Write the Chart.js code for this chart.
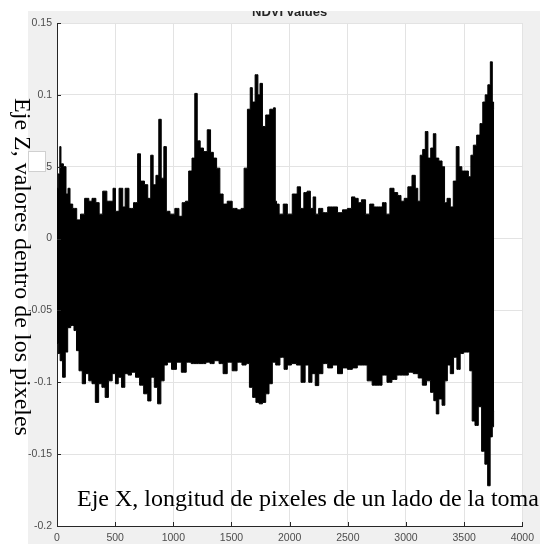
<!DOCTYPE html>
<html>
<head>
<meta charset="utf-8">
<script src="https://cdn.jsdelivr.net/npm/chart.js@4"></script>
<style>
  html, body { margin: 0; padding: 0; background: #fff; }
  #wrap { width: 540px; height: 544px; }
</style>
</head>
<body>
<div id="wrap"><canvas id="ndvi" width="540" height="544"></canvas></div>
<script>
const titulo = 'NDVI values';
const etiquetaX = 'Eje X, longitud de pixeles de un lado de la toma';
const etiquetaZ = 'Eje Z, valores dentro de los pixeles';

const ticksX = [0, 500, 1000, 1500, 2000, 2500, 3000, 3500, 4000];
const ticksZ = [0.15, 0.1, 0.05, 0, -0.05, -0.1, -0.15, -0.2];

// envolvente superior de la señal (pixel, valor)
const supX = [0, 20, 28, 40, 70, 85, 104, 120, 150, 189, 215, 260, 287, 315, 353, 372, 414, 443, 470, 493,
  512, 555, 575, 597, 640, 676, 710, 725, 738, 766, 794, 817, 836, 865, 885, 907, 930, 950, 992, 1034,
  1062, 1090, 1118, 1146, 1175, 1194, 1217, 1245, 1273, 1310, 1330, 1358, 1386, 1414, 1442, 1485, 1527, 1569, 1597, 1620,
  1654, 1668, 1690, 1716, 1738, 1752, 1780, 1808, 1850, 1873, 1880, 1895, 1924, 1966, 1994, 2051, 2079, 2108, 2136, 2164,
  2192, 2212, 2235, 2263, 2306, 2348, 2390, 2433, 2475, 2518, 2546, 2575, 2603, 2631, 2674, 2702, 2744, 2780, 2815, 2843,
  2880, 2914, 2943, 2971, 2999, 3033, 3070, 3090, 3112, 3132, 3155, 3177, 3200, 3225, 3245, 3268, 3296, 3324, 3339, 3367,
  3395, 3418, 3446, 3466, 3494, 3522, 3551, 3565, 3593, 3622, 3650, 3670, 3692, 3715, 3735, 3749, 3757];
const supZ = [0.035, 0.045, 0.064, 0.052, 0.050, 0.031, 0.035, 0.024, 0.021, 0.013, 0.017, 0.028, 0.026, 0.028, 0.025, 0.017, 0.033, 0.026, 0.026, 0.035,
  0.019, 0.035, 0.022, 0.035, 0.021, 0.025, 0.059, 0.040, 0.040, 0.0375, 0.028, 0.058, 0.0375, 0.044, 0.083, 0.042, 0.064, 0.019, 0.017, 0.021,
  0.0155, 0.025, 0.026, 0.047, 0.056, 0.101, 0.068, 0.063, 0.0605, 0.0757, 0.060, 0.056, 0.049, 0.031, 0.024, 0.026, 0.021, 0.020, 0.021, 0.049,
  0.090, 0.105, 0.095, 0.114, 0.100, 0.108, 0.078, 0.086, 0.090, 0.091, 0.026, 0.024, 0.017, 0.024, 0.017, 0.031, 0.036, 0.021, 0.032, 0.033,
  0.021, 0.029, 0.017, 0.021, 0.018, 0.022, 0.022, 0.018, 0.020, 0.021, 0.029, 0.028, 0.025, 0.027, 0.017, 0.024, 0.022, 0.022, 0.025, 0.017,
  0.035, 0.032, 0.030, 0.026, 0.028, 0.036, 0.044, 0.035, 0.026, 0.058, 0.062, 0.0745, 0.056, 0.063, 0.073, 0.056, 0.054, 0.050, 0.025, 0.028,
  0.022, 0.040, 0.064, 0.050, 0.047, 0.047, 0.043, 0.058, 0.065, 0.072, 0.080, 0.095, 0.100, 0.107, 0.123, 0.095, 0.090];

// envolvente inferior de la señal (pixel, valor)
const infX = [0, 20, 34, 62, 80, 104, 132, 160, 175, 203, 231, 259, 287, 315, 344, 372, 400, 428, 456, 493,
  512, 541, 569, 597, 626, 654, 696, 724, 766, 794, 822, 851, 879, 907, 935, 963, 1006, 1048, 1090, 1132,
  1175, 1217, 1259, 1301, 1330, 1372, 1414, 1442, 1485, 1527, 1569, 1611, 1640, 1668, 1696, 1724, 1752, 1780, 1808, 1837,
  1865, 1895, 1938, 1966, 1994, 2037, 2080, 2116, 2150, 2178, 2205, 2235, 2265, 2306, 2348, 2390, 2433, 2475, 2518, 2560,
  2603, 2645, 2688, 2730, 2773, 2815, 2858, 2900, 2943, 2999, 3041, 3084, 3126, 3155, 3197, 3225, 3253, 3268, 3296, 3324,
  3344, 3367, 3395, 3423, 3452, 3480, 3508, 3537, 3559, 3579, 3607, 3636, 3664, 3692, 3712, 3735, 3749, 3757];
const infZ = [-0.073, -0.080, -0.085, -0.0965, -0.079, -0.062, -0.0605, -0.064, -0.078, -0.092, -0.101, -0.094, -0.099, -0.101, -0.114, -0.101, -0.1035, -0.1105, -0.099, -0.094,
  -0.101, -0.0965, -0.1035, -0.094, -0.095, -0.093, -0.0965, -0.102, -0.108, -0.113, -0.0965, -0.1035, -0.115, -0.099, -0.088, -0.086, -0.091, -0.086, -0.093, -0.086,
  -0.087, -0.087, -0.087, -0.086, -0.087, -0.085, -0.087, -0.094, -0.086, -0.092, -0.086, -0.088, -0.087, -0.1035, -0.1105, -0.114, -0.115, -0.114, -0.108, -0.101,
  -0.086, -0.088, -0.0826, -0.091, -0.088, -0.087, -0.088, -0.100, -0.088, -0.100, -0.094, -0.1023, -0.094, -0.087, -0.090, -0.088, -0.094, -0.090, -0.091, -0.090,
  -0.088, -0.088, -0.099, -0.102, -0.102, -0.095, -0.100, -0.098, -0.095, -0.095, -0.093, -0.094, -0.097, -0.102, -0.099, -0.107, -0.1128, -0.122, -0.1116, -0.116,
  -0.099, -0.088, -0.094, -0.0826, -0.091, -0.080, -0.079, -0.079, -0.092, -0.127, -0.130, -0.117, -0.148, -0.157, -0.172, -0.138, -0.131, -0.120];

const puntos = (xs, zs) => xs.map((x, i) => ({ x: x, y: zs[i] }));

const GRIS_EJE = '#262626';
const GRIS_TEXTO = '#4d4d4d';

const fondo = {
  id: 'fondo',
  beforeDraw(chart) {
    const { ctx, chartArea: a } = chart;
    ctx.save();
    ctx.fillStyle = '#f0f0f0';
    ctx.fillRect(0, 0, chart.width, chart.height);
    ctx.fillStyle = '#ffffff';
    ctx.fillRect(a.left, a.top, a.right - a.left, a.bottom - a.top);
    ctx.fillStyle = GRIS_EJE;
    ctx.font = 'bold 13px "Liberation Sans", Arial, sans-serif';
    ctx.textAlign = 'center';
    ctx.textBaseline = 'alphabetic';
    ctx.fillText(titulo, (a.left + a.right) / 2, 15.5);
    ctx.restore();
  },
  afterDraw(chart) {
    const { ctx, chartArea: a } = chart;
    const sx = chart.scales.x, sy = chart.scales.y;
    ctx.save();
    // marcas hacia dentro, estilo matlab
    ctx.strokeStyle = GRIS_EJE;
    ctx.lineWidth = 1;
    ctx.beginPath();
    ticksX.forEach(v => {
      const px = Math.round(sx.getPixelForValue(v)) + 0.5;
      ctx.moveTo(px, a.bottom);
      ctx.lineTo(px, a.bottom - 4);
    });
    ticksZ.forEach(v => {
      const py = Math.round(sy.getPixelForValue(v)) + 0.5;
      ctx.moveTo(a.left, py);
      ctx.lineTo(a.left + 4, py);
    });
    ctx.stroke();

    // recorte blanco arriba y a la izquierda
    ctx.fillStyle = '#ffffff';
    ctx.fillRect(0, 0, chart.width, 11);
    ctx.fillRect(0, 0, 28, chart.height);
    // recuadro blanco sobre la etiqueta 0.05
    ctx.fillRect(28, 151, 18, 21);
    ctx.strokeStyle = '#d0d0d0';
    ctx.strokeRect(28.5, 151.5, 17, 20);

    // textos de los ejes
    ctx.fillStyle = '#000000';
    ctx.font = '24px "Liberation Serif", "Times New Roman", serif';
    ctx.textAlign = 'left';
    ctx.textBaseline = 'alphabetic';
    ctx.fillText(etiquetaX, 77, 506);

    ctx.translate(21, 267);
    ctx.rotate(Math.PI / 2);
    ctx.textAlign = 'center';
    ctx.textBaseline = 'middle';
    ctx.fillText(etiquetaZ, 0, 0);
    ctx.restore();
  }
};

new Chart(document.getElementById('ndvi'), {
  type: 'line',
  data: {
    datasets: [
      {
        // se rellena hasta -0.05 para solapar con la parte de abajo
        data: puntos(supX, supZ),
        borderColor: '#000000',
        backgroundColor: '#000000',
        borderWidth: 1,
        pointRadius: 0,
        stepped: 'middle',
        fill: { value: -0.05 }
      },
      {
        data: puntos(infX, infZ),
        borderColor: '#000000',
        backgroundColor: '#000000',
        borderWidth: 1,
        pointRadius: 0,
        stepped: 'middle',
        fill: { value: 0 }
      }
    ]
  },
  options: {
    responsive: false,
    animation: false,
    layout: { padding: { top: 23, right: 11, left: 0, bottom: 0 } },
    plugins: {
      legend: { display: false },
      tooltip: { enabled: false },
      title: { display: false }
    },
    scales: {
      x: {
        type: 'linear',
        min: 0,
        max: 4000,
        afterBuildTicks: s => { s.ticks = ticksX.map(v => ({ value: v })); },
        afterFit: s => { s.height = 18; },
        grid: { color: '#e3e3e3', lineWidth: 1, drawTicks: false },
        border: { display: true, color: GRIS_EJE, width: 1 },
        ticks: {
          padding: 6,
          maxRotation: 0,
          autoSkip: false,
          color: GRIS_TEXTO,
          font: { family: '"Liberation Sans", Arial, sans-serif', size: 10.5 },
          callback: v => String(v)
        }
      },
      y: {
        min: -0.2,
        max: 0.15,
        afterBuildTicks: s => { s.ticks = ticksZ.map(v => ({ value: v })); },
        afterFit: s => { s.width = 57; },
        grid: { color: '#e3e3e3', lineWidth: 1, drawTicks: false },
        border: { display: true, color: GRIS_EJE, width: 1 },
        ticks: {
          padding: 5,
          autoSkip: false,
          color: GRIS_TEXTO,
          font: { family: '"Liberation Sans", Arial, sans-serif', size: 10.5 },
          callback: v => String(parseFloat(v.toFixed(2)))
        }
      }
    }
  },
  plugins: [fondo]
});
</script>
</body>
</html>
